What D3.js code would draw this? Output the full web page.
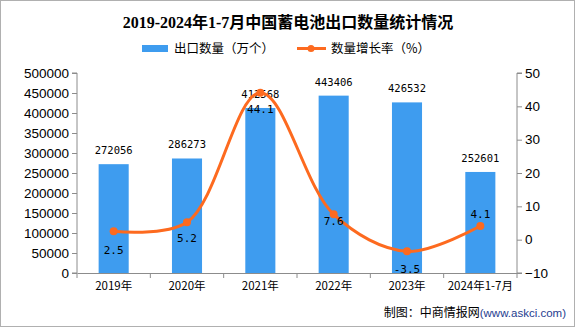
<!DOCTYPE html>
<html><head><meta charset="utf-8">
<script src="https://cdn.jsdelivr.net/npm/d3@7"></script>
<style>body{margin:0;background:#fff}svg{display:block}</style>
</head><body>
<svg id="c" width="576" height="327"></svg>
<script>
const categories = ["2019年","2020年","2021年","2022年","2023年","2024年1-7月"];
const exportQty = [272056, 286273, 412568, 443406, 426532, 252601];
const growthRate = [2.5, 5.2, 44.1, 7.6, -3.5, 4.1];
const leftTicks = [0,50000,100000,150000,200000,250000,300000,350000,400000,450000,500000];
const rightTicks = [-10,0,10,20,30,40,50];

const svg = d3.select("#c");
const W = 576, H = 327;
const m = {l:77, r:59, t:73, b:54};
const barColor = "#3e9cef", lineColor = "#fd6a1f", axisColor = "#8c8c8c";
// label vertical offsets (px) relative to each rate point
const rateLabelDy = [23, 20, 20, 11, 22, -8];

svg.append("rect").attr("x",0.5).attr("y",0.5).attr("width",W-2).attr("height",H-1)
  .attr("fill","#fff").attr("stroke","#b0b0b0");

svg.append("text").attr("x",288).attr("y",28).attr("text-anchor","middle")
  .attr("font-family","'Liberation Serif', 'Noto Sans CJK SC', serif").attr("font-weight","bold").attr("font-size",16)
  .text("2019-2024年1-7月中国蓄电池出口数量统计情况");

// legend
const lg = svg.append("g").attr("font-family","'Noto Sans CJK SC'").attr("font-size",12.5);
lg.append("rect").attr("x",142).attr("y",45).attr("width",26).attr("height",7).attr("fill",barColor);
lg.append("text").attr("x",174).attr("y",53).text("出口数量（万个）");
lg.append("line").attr("x1",297).attr("x2",326).attr("y1",48.5).attr("y2",48.5).attr("stroke",lineColor).attr("stroke-width",3);
lg.append("circle").attr("cx",311).attr("cy",48.5).attr("r",3.5).attr("fill",lineColor);
lg.append("text").attr("x",331).attr("y",53).text("数量增长率（%）");

const x = d3.scaleBand().domain(categories).range([m.l, W-m.r]).paddingInner(0.59).paddingOuter(0.295);
const yL = d3.scaleLinear().domain([0,500000]).range([H-m.b, m.t]);
const yR = d3.scaleLinear().domain([-10,50]).range([H-m.b, m.t]);

// bars
svg.append("g").selectAll("rect").data(categories).join("rect")
  .attr("x",d=>x(d)).attr("width",x.bandwidth())
  .attr("y",(d,i)=>yL(exportQty[i])).attr("height",(d,i)=>yL(0)-yL(exportQty[i]))
  .attr("fill",barColor);

// bar labels
svg.append("g").selectAll("text").data(categories).join("text")
  .attr("x",d=>x(d)+x.bandwidth()/2).attr("y",(d,i)=>yL(exportQty[i])-10)
  .attr("text-anchor","middle").attr("font-family","'DejaVu Sans Mono', monospace").attr("font-size",10.5)
  .text((d,i)=>exportQty[i]);

// axes
const axL = d3.axisLeft(yL).tickValues(leftTicks).tickSize(5).tickFormat(d=>d);
const gL = svg.append("g").attr("transform",`translate(${m.l},0)`).call(axL);
const axR = d3.axisRight(yR).tickValues(rightTicks).tickSize(5).tickFormat(d=>d<0?"\u2212"+(-d):d);
const gR = svg.append("g").attr("transform",`translate(${W-m.r},0)`).call(axR);
const gX = svg.append("g").attr("transform",`translate(0,${H-m.b})`)
  .call(d3.axisBottom(x).tickSize(0).tickPadding(9));
const bounds = categories.map(d=>x(d)-x.step()*x.paddingInner()/2).concat([W-m.r]);
svg.append("g").selectAll("line").data(bounds).join("line")
  .attr("x1",d=>d).attr("x2",d=>d).attr("y1",H-m.b).attr("y2",H-m.b+5).attr("stroke",axisColor);
[gL,gR,gX].forEach(g=>{
  g.selectAll(".domain").attr("stroke",axisColor);
  g.selectAll(".tick line").attr("stroke",axisColor);
  g.selectAll("text").attr("fill","#000").attr("font-family","'Liberation Sans', Arial, sans-serif").attr("font-size",13.5);
});
gX.selectAll("text").attr("font-family","'Noto Sans CJK SC'").attr("font-size",11.5);
gR.select(".domain").attr("d",`M5,${m.t}H0V${H-m.b}H5`);
gL.select(".domain").attr("d",`M-5,${m.t}H0V${H-m.b}H-5`);

// line
const cx = (i)=>x(categories[i])+x.bandwidth()/2;
const line = d3.line().x((d,i)=>cx(i)).y(d=>yR(d)).curve(d3.curveCatmullRom.alpha(0.5));
svg.append("path").datum(growthRate).attr("d",line).attr("fill","none")
  .attr("stroke",lineColor).attr("stroke-width",3);
svg.append("g").selectAll("circle").data(growthRate).join("circle")
  .attr("cx",(d,i)=>cx(i)).attr("cy",d=>yR(d)).attr("r",4).attr("fill",lineColor);
svg.append("g").selectAll("text").data(growthRate).join("text")
  .attr("x",(d,i)=>cx(i)).attr("y",(d,i)=>yR(d)+rateLabelDy[i])
  .attr("text-anchor","middle").attr("font-family","'DejaVu Sans Mono', monospace").attr("font-size",11)
  .text(d=>d.toFixed(1));

// footer
const ft = svg.append("text").attr("x",566).attr("y",317).attr("text-anchor","end")
  .attr("font-family","'Noto Sans CJK SC'").attr("font-size",12);
ft.append("tspan").text("制图：中商情报网");
ft.append("tspan").attr("fill","#1f3d8f").attr("font-family","'Liberation Sans'").attr("font-size",11.5).text("(www.askci.com)");
</script>
</body></html>
